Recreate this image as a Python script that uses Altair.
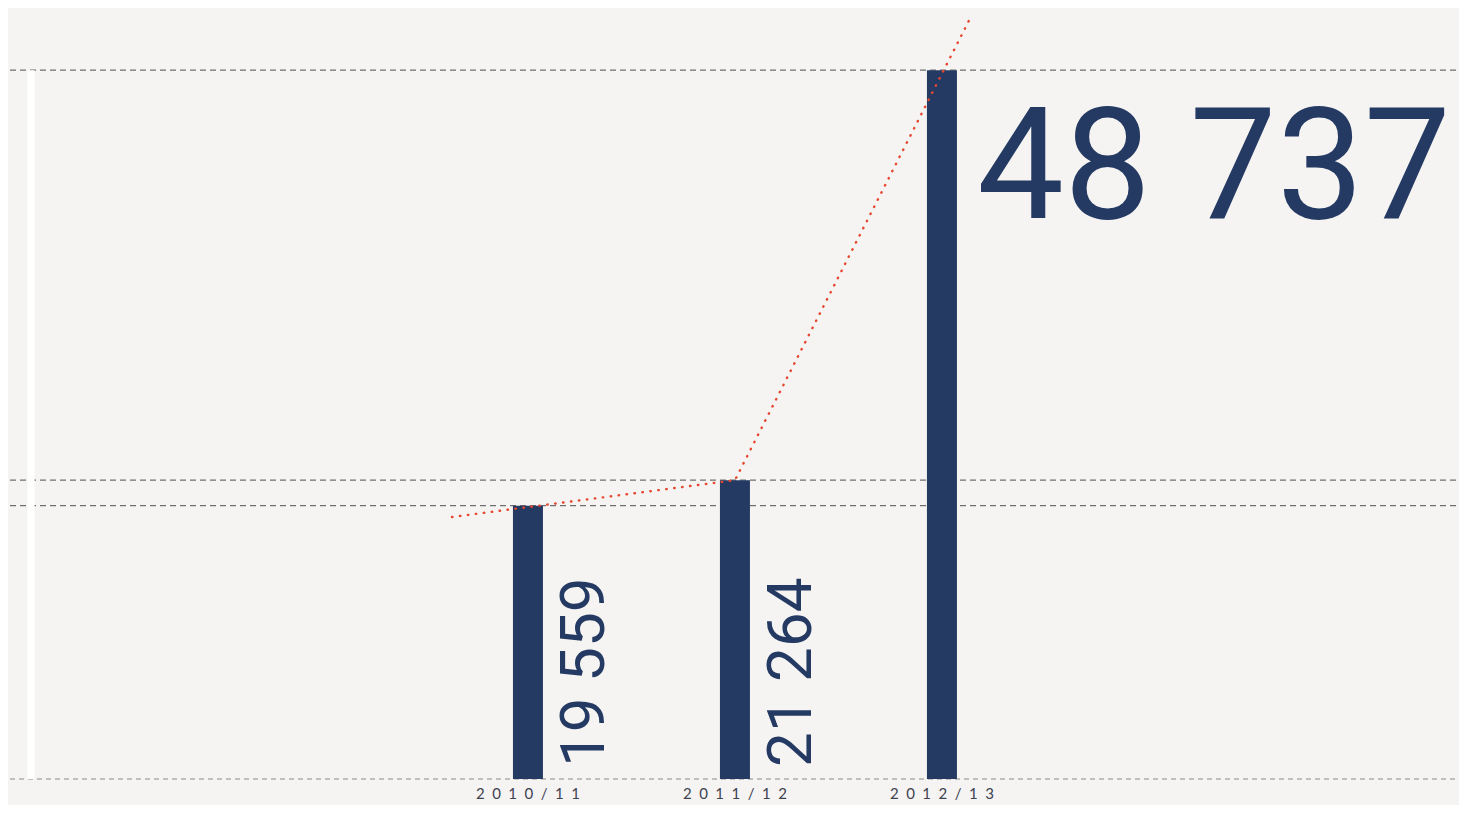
import altair as alt
import pandas as pd

seasons = ["2010/11", "2011/12", "2012/13"]
values = [19559, 21264, 48737]
value_labels = ["19 559", "21 264", "48 737"]
# dotted trend line (index position, value)
trend_x = [-0.367, 1.0, 2.137]
trend_y = [18798, 21264, 52230]

NAVY = "#243a63"
BG = "#f5f4f2"
W, H = 1451, 771
YMIN, YMAX = 1245, 52900

df = pd.DataFrame({
    "i": list(range(len(seasons))),
    "season": seasons,
    "value": values,
    "label": value_labels,
    "spaced": ["\u2002".join(s) for s in seasons],
})
tdf = pd.DataFrame({"tx": trend_x, "ty": trend_y})

xscale = alt.Scale(domain=[-2.512, 4.498], nice=False, zero=False)
yscale = alt.Scale(domain=[YMIN, YMAX], nice=False, zero=False)

base = alt.Chart(df)

rules = base.mark_rule(color="#6f6f6f", strokeDash=[6, 4], strokeWidth=1.2).encode(
    y=alt.Y("value:Q", scale=yscale, axis=None),
    x=alt.value(2), x2=alt.value(W),
)

baseline = base.transform_aggregate(n="count()").mark_rule(
    color="#8a8a8a", strokeDash=[5, 4], strokeWidth=1.2
).encode(
    y=alt.value(H),
    x=alt.value(2), x2=alt.value(W),
)

white = base.transform_aggregate(vmax="max(value)").mark_rule(
    color="#ffffff", strokeWidth=7
).encode(
    y=alt.Y("vmax:Q", scale=yscale, axis=None),
    y2=alt.value(H),
    x=alt.value(23),
)

bars = base.mark_rule(strokeWidth=30, color=NAVY, strokeCap="butt").encode(
    x=alt.X("i:Q", scale=xscale, axis=None),
    y=alt.Y("value:Q", scale=yscale, axis=None),
    y2=alt.value(H),
)

xlabels = base.mark_text(fontSize=15, font="Lato", color="#3d4250",
                         align="center", baseline="middle").encode(
    x=alt.X("i:Q", scale=xscale, axis=None),
    y=alt.value(786),
    text="spaced:N",
)

trend = alt.Chart(tdf).mark_line(color="#e5472f", strokeDash=[0.5, 7.5],
                                 strokeCap="round", strokeWidth=2.4).encode(
    x=alt.X("tx:Q", scale=xscale, axis=None),
    y=alt.Y("ty:Q", scale=yscale, axis=None),
)

vtext = base.transform_filter(alt.datum.i < 2).mark_text(
    angle=270, align="left", baseline="middle", dy=57,
    fontSize=62, font="Roboto", color=NAVY
).encode(
    x=alt.X("i:Q", scale=xscale, axis=None),
    y=alt.value(759),
    text="label:N",
)

bigtext = base.transform_filter(alt.datum.i == 2).mark_text(
    align="left", baseline="alphabetic", dx=35, dy=148,
    fontSize=155, font="Roboto", color=NAVY
).encode(
    x=alt.X("i:Q", scale=xscale, axis=None),
    y=alt.Y("value:Q", scale=yscale, axis=None),
    text="label:N",
)

chart = alt.layer(rules, baseline, white, xlabels, bars, trend, vtext, bigtext).properties(
    width=W, height=H,
    padding={"left": 0, "top": 0, "right": 0, "bottom": 26},
    autosize=alt.AutoSizeParams(type="none"),
    background=BG,
).configure_view(stroke=None)

chart.save("out.html", embed_options={"renderer": "svg", "actions": False})
